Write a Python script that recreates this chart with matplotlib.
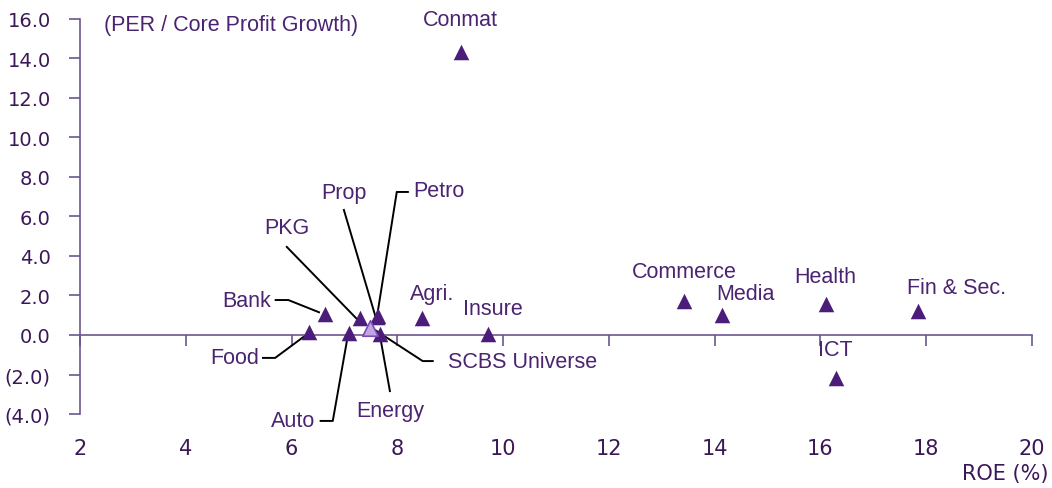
import matplotlib.pyplot as plt

# -------------------- DATA --------------------
sectors = ["Conmat", "Bank", "Food", "PKG", "Prop", "Petro", "Auto", "Energy",
           "Agri.", "Insure", "Commerce", "Media", "Health", "Fin & Sec.", "ICT"]
roe = [9.20, 6.63, 6.33, 7.29, 7.61, 7.64, 7.08, 7.68,
       8.46, 9.71, 13.42, 14.14, 16.10, 17.84, 16.29]
peg = [14.3, 1.06, 0.15, 0.88, 0.90, 0.98, 0.10, 0.05,
       0.86, 0.05, 1.72, 1.01, 1.57, 1.22, -2.18]
universe_roe = 7.49
universe_peg = 0.35

x_ticks = list(range(2, 21, 2))
y_ticks = [16, 14, 12, 10, 8, 6, 4, 2, 0, -2, -4]

# -------------------- LAYOUT --------------------
# label position (x, y, ha) and optional leader line points
labels = {
    "Conmat": (9.20, 15.95, "center", None),
    "Bank": (5.62, 1.77, "right", [(5.70, 1.77), (5.94, 1.77), (6.52, 1.15)]),
    "Food": (5.38, -1.16, "right", [(5.46, -1.16), (5.69, -1.16), (6.25, -0.05)]),
    "PKG": (5.91, 5.45, "center", [(5.91, 4.46), (7.24, 0.80)]),
    "Prop": (6.99, 7.19, "center", [(6.99, 6.33), (7.58, 1.00)]),
    "Petro": (8.30, 7.29, "left", [(8.20, 7.24), (7.99, 7.24), (7.62, 1.00)]),
    "Auto": (6.44, -4.35, "right", [(6.55, -4.35), (6.78, -4.35), (7.07, 0.05)]),
    "Energy": (7.86, -3.80, "center", [(7.86, -2.84), (7.67, 0.0)]),
    "Agri.": (8.65, 2.08, "center", None),
    "Insure": (9.81, 1.32, "center", None),
    "Commerce": (13.42, 3.19, "center", None),
    "Media": (14.59, 2.08, "center", None),
    "Health": (16.10, 2.94, "center", None),
    "Fin & Sec.": (18.58, 2.38, "center", None),
    "ICT": (16.29, -0.71, "center", None),
}
universe_label = (8.95, -1.32, [(8.67, -1.32), (8.48, -1.32), (7.58, 0.25)])

PURPLE = "#4B1C7A"
TEXT = "#4A2470"
AXIS = "#6E5591"
TICK_TXT = "#3A1858"

# -------------------- PLOT --------------------
fig = plt.figure(figsize=(10.52, 4.89), dpi=100)
ax = fig.add_axes([0.076, 0.1513, 0.905, 0.808])

ax.scatter(roe, peg, marker="^", s=125, color=PURPLE, zorder=3, linewidths=0)
ax.scatter([universe_roe], [universe_peg], marker="^", s=125, facecolor="#C4A2E6",
           edgecolor="#7A4DB0", linewidths=1.2, zorder=3)

for name, (tx, ty, ha, pts) in labels.items():
    ax.text(tx, ty, name, ha=ha, va="center", fontsize=15.5, color=TEXT,
            family="Liberation Sans", clip_on=False)
    if pts:
        ax.plot([p[0] for p in pts], [p[1] for p in pts], color="black", lw=1.4,
                zorder=2, clip_on=False)

ux, uy, upts = universe_label
ax.text(ux, uy, "SCBS Universe", ha="left", va="center", fontsize=15.5, color=TEXT,
        family="Liberation Sans", clip_on=False)
ax.plot([p[0] for p in upts], [p[1] for p in upts], color="black", lw=1.4, zorder=2,
        clip_on=False)

ax.text(0.025, 0.985, "(PER / Core Profit Growth)", transform=ax.transAxes,
        ha="left", va="center", fontsize=15.5, color=TEXT, family="Liberation Sans")

ax.set_xlim(2, 20)
ax.set_ylim(-4, 16)
ax.set_xticks(x_ticks)
ax.set_yticks(y_ticks)
ax.set_yticklabels([f"({abs(v):.1f})" if v < 0 else f"{v:.1f}" for v in y_ticks])

for s in ["top", "right"]:
    ax.spines[s].set_visible(False)
ax.spines["bottom"].set_position(("data", 0))
ax.spines["bottom"].set_color(AXIS)
ax.spines["left"].set_color(AXIS)
ax.spines["bottom"].set_linewidth(1.2)
ax.spines["left"].set_linewidth(1.2)

ax.tick_params(axis="y", direction="out", length=8, width=1.2, color=AXIS,
               labelsize=14, labelcolor=TICK_TXT, pad=13)
ax.tick_params(axis="x", direction="out", length=8, width=1.2, color=AXIS,
               labelsize=15, labelcolor=TICK_TXT, pad=66)

ax.text(1.017, -0.15, "ROE (%)", transform=ax.transAxes, ha="right", va="center",
        fontsize=15, color=TICK_TXT)

fig.savefig("out.png", dpi=100)
